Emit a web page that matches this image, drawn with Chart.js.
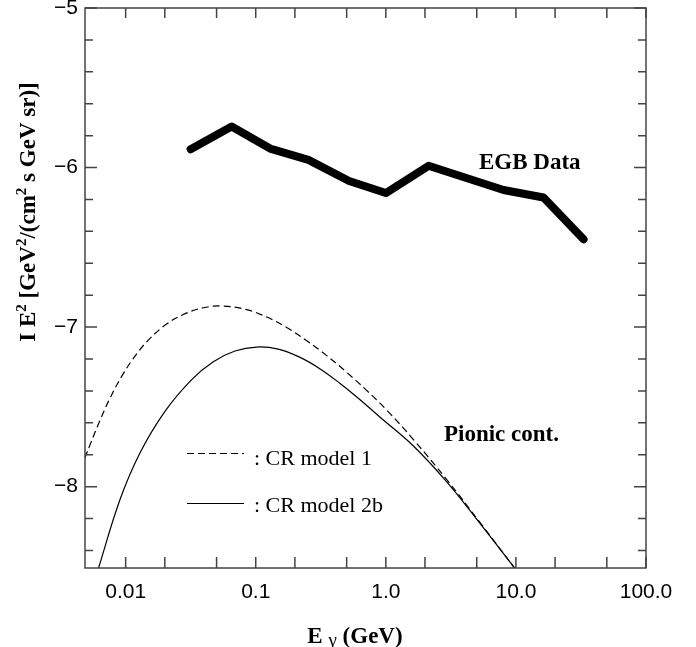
<!DOCTYPE html>
<html lang="en">
<head>
<meta charset="UTF-8" />
<title>EGB vs pionic continuum</title>
<script src="https://cdn.jsdelivr.net/npm/chart.js"></script>
<style>
  html, body { margin: 0; padding: 0; background: #fff; }
  #wrap { width: 696px; height: 647px; }
</style>
</head>
<body>
<div id="wrap"><canvas id="egbChart" width="696" height="647"></canvas></div>
<script>
// axis ticks
const xTickValues = [0.01, 0.1, 1, 10, 100];
const xTickLabels = ["0.01", "0.1", "1.0", "10.0", "100.0"];
const xMinorTicks = [0.02, 0.05, 0.2, 0.5, 2, 5, 20, 50];
const yTickValues = [-8, -7, -6, -5];
const yTickLabels = ["\u22128", "\u22127", "\u22126", "\u22125"];

// EGB data (thick line)
const egbEnergy = [0.0316, 0.0653, 0.129, 0.254, 0.522, 1.0, 2.13, 8.03, 16.3, 33.1];
const egbFlux = [-5.885, -5.743, -5.881, -5.952, -6.084, -6.160, -5.989, -6.141, -6.188, -6.450];

// CR model 1 (dashed)
const model1Energy = [0.00486, 0.00531, 0.00634, 0.00757, 0.00959, 0.01216, 0.01539, 0.02066, 0.02773,
  0.03952, 0.0563, 0.0853, 0.1216, 0.1731, 0.2467, 0.3514, 0.5012, 0.7145, 1.018, 1.63, 2.94, 5.31, 9.88];
const model1Flux = [-7.820, -7.740, -7.586, -7.447, -7.292, -7.168, -7.071, -6.981, -6.921,
  -6.879, -6.868, -6.891, -6.937, -7.003, -7.085, -7.179, -7.284, -7.398, -7.521, -7.705, -7.956, -8.226, -8.516];

// CR model 2b (solid)
const model2bEnergy = [0.00616, 0.00904, 0.01288, 0.02006, 0.0322, 0.0472, 0.0693, 0.1018, 0.1486,
  0.2193, 0.3126, 0.4451, 0.6339, 0.9037, 1.63, 2.94, 5.31, 9.88];
const model2bFlux = [-8.515, -8.082, -7.789, -7.528, -7.329, -7.217, -7.150, -7.125, -7.138,
  -7.190, -7.262, -7.353, -7.455, -7.565, -7.745, -7.970, -8.232, -8.515];

const toPoints = (xs, ys) => xs.map((x, i) => ({ x: x, y: ys[i] }));

const AXIS_COLOR = "#444";
const SERIF = "'Liberation Serif', 'Times New Roman', serif";

// draws text runs (with superscripts) centred on x, baseline y
function drawRuns(ctx, runs, x, y) {
  let total = 0;
  runs.forEach(r => { ctx.font = r.font; r.w = ctx.measureText(r.t).width; total += r.w; });
  let cx = x - total / 2;
  ctx.textAlign = "left";
  ctx.textBaseline = "alphabetic";
  runs.forEach(r => {
    ctx.font = r.font;
    ctx.fillText(r.t, cx, y + (r.dy || 0));
    cx += r.w;
  });
}

const framePlugin = {
  id: "frameAndText",
  afterDraw(chart) {
    const ctx = chart.ctx;
    const a = chart.chartArea;
    const xs = chart.scales.x;
    const ys = chart.scales.y;

    ctx.save();
    ctx.strokeStyle = AXIS_COLOR;
    ctx.lineWidth = 1.5;
    ctx.strokeRect(a.left, a.top, a.right - a.left, a.bottom - a.top);

    // inward tick marks on all sides
    ctx.beginPath();
    xTickValues.concat(xMinorTicks).forEach(v => {
      const px = xs.getPixelForValue(v);
      ctx.moveTo(px, a.bottom); ctx.lineTo(px, a.bottom - 11);
      ctx.moveTo(px, a.top); ctx.lineTo(px, a.top + 10);
    });
    for (let k = -42; k <= -25; k++) {
      const py = ys.getPixelForValue(k / 5);
      const len = (k % 5 === 0) ? 12 : 8;
      ctx.moveTo(a.left, py); ctx.lineTo(a.left + len, py);
      ctx.moveTo(a.right, py); ctx.lineTo(a.right - len, py);
    }
    ctx.stroke();

    // legend
    ctx.strokeStyle = "#000";
    ctx.lineWidth = 1.2;
    ctx.setLineDash([7, 4]);
    ctx.beginPath(); ctx.moveTo(187, 453.5); ctx.lineTo(244, 453.5); ctx.stroke();
    ctx.setLineDash([]);
    ctx.beginPath(); ctx.moveTo(187, 503.5); ctx.lineTo(244, 503.5); ctx.stroke();

    ctx.fillStyle = "#000";
    ctx.textAlign = "left";
    ctx.textBaseline = "alphabetic";
    ctx.font = "22px " + SERIF;
    ctx.fillText(": CR model 1", 254, 465);
    ctx.fillText(": CR model 2b", 254, 512);

    // annotations
    ctx.font = "bold 23px " + SERIF;
    ctx.fillText("EGB Data", 479, 169);
    ctx.fillText("Pionic cont.", 444, 441);

    // x title
    drawRuns(ctx, [
      { t: "E", font: "bold 23px " + SERIF },
      { t: " ", font: "bold 23px " + SERIF },
      { t: "\u03b3", font: "19px " + SERIF, dy: 3 },
      { t: " (GeV)", font: "bold 23px " + SERIF }
    ], 355, 643);

    // y title
    ctx.save();
    ctx.translate(35, 212);
    ctx.rotate(-Math.PI / 2);
    const big = "bold 23px " + SERIF, sup = "bold 15px " + SERIF;
    drawRuns(ctx, [
      { t: "I E", font: big },
      { t: "2", font: sup, dy: -9 },
      { t: " [GeV", font: big },
      { t: "2", font: sup, dy: -9 },
      { t: "/(cm", font: big },
      { t: "2", font: sup, dy: -9 },
      { t: " s GeV sr)]", font: big }
    ], 0, 0);
    ctx.restore();

    ctx.restore();
  }
};

new Chart(document.getElementById("egbChart"), {
  type: "line",
  data: {
    datasets: [
      {
        label: "EGB Data",
        data: toPoints(egbEnergy, egbFlux),
        borderColor: "#000",
        borderWidth: 8,
        borderCapStyle: "round",
        borderJoinStyle: "round",
        pointRadius: 0,
        tension: 0,
        clip: 0
      },
      {
        label: "CR model 1",
        data: toPoints(model1Energy, model1Flux),
        borderColor: "#000",
        borderWidth: 1.2,
        borderDash: [7, 4],
        pointRadius: 0,
        tension: 0.4,
        clip: 0
      },
      {
        label: "CR model 2b",
        data: toPoints(model2bEnergy, model2bFlux),
        borderColor: "#000",
        borderWidth: 1.2,
        pointRadius: 0,
        tension: 0.4,
        clip: 0
      }
    ]
  },
  options: {
    responsive: false,
    animation: false,
    events: [],
    layout: { padding: { top: 8, right: 50, left: 0, bottom: 0 } },
    plugins: { legend: { display: false }, tooltip: { enabled: false } },
    scales: {
      x: {
        type: "logarithmic",
        min: 0.00487,
        max: 100,
        grid: { display: false, drawTicks: false },
        border: { display: false },
        afterBuildTicks: (scale) => { scale.ticks = xTickValues.map(v => ({ value: v })); },
        afterFit: (scale) => { scale.height = 79; scale.paddingLeft = 0; scale.paddingRight = 0; },
        ticks: {
          autoSkip: false,
          maxRotation: 0,
          padding: 12,
          color: "#000",
          font: { family: "Liberation Sans", size: 21 },
          callback: (v) => {
            const i = xTickValues.findIndex(t => Math.abs(t - v) / t < 1e-6);
            return i >= 0 ? xTickLabels[i] : "";
          }
        }
      },
      y: {
        type: "linear",
        min: -8.51,
        max: -5,
        grid: { display: false, drawTicks: false },
        border: { display: false },
        afterBuildTicks: (scale) => { scale.ticks = yTickValues.map(v => ({ value: v })); },
        afterFit: (scale) => { scale.width = 85; scale.paddingTop = 0; scale.paddingBottom = 0; },
        ticks: {
          padding: 7,
          color: "#000",
          font: { family: "Liberation Sans", size: 21 },
          callback: (v) => {
            const i = yTickValues.indexOf(v);
            return i >= 0 ? yTickLabels[i] : "";
          }
        }
      }
    }
  },
  plugins: [framePlugin]
});
</script>
</body>
</html>
